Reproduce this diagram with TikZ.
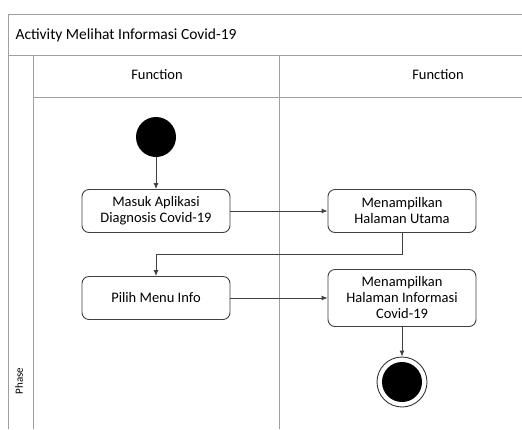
\documentclass[tikz,border=0pt]{standalone}
\usepackage{fontspec}
\setmainfont{Carlito}
\usetikzlibrary{arrows.meta}

\begin{document}
\begin{tikzpicture}[x=1pt,y=-1pt]
\tikzstyle{every node}=[font=\fontsize{14.5}{16}\selectfont]
\tikzstyle{frame}=[draw=gray!75,line width=1pt]
\tikzstyle{act}=[draw=black!75,line width=0.9pt,rounded corners=7pt,minimum width=148pt,minimum height=43pt,align=center,inner sep=2pt]
\tikzstyle{flow}=[draw=black!75,line width=0.9pt,-{Latex[length=6pt,width=5pt]}]
\useasboundingbox (0,0) rectangle (522,429);
\fill[white] (0,0) rectangle (522,429);
% swimlane frame
\draw[frame] (522,14) -- (8,14) -- (8,429);
\draw[frame] (8,55) -- (522,55);
\draw[frame] (33,55) -- (33,429);
\draw[frame] (279,55) -- (279,429);
\draw[frame] (33,97) -- (522,97);
\node[anchor=west,font=\fontsize{15.5}{18}\selectfont] (judul) at (12,35) {Activity Melihat Informasi Covid-19};
\node (lane1) at (157,75) {Function};
\node (lane2) at (438,75) {Function};
\node[rotate=90,font=\fontsize{11}{12}\selectfont] (fase) at (19,381) {Phase};
% nodes
\node[circle,fill=black,minimum size=40pt,inner sep=0pt] (mulai) at (156,137) {};
\node[act] (masuk) at (156,211) {Masuk Aplikasi\\Diagnosis Covid-19};
\node[act] (utama) at (402,211) {Menampilkan\\Halaman Utama};
\node[act] (pilih) at (156,298) {Pilih Menu Info};
\node[act,minimum height=57pt] (info) at (402,298) {Menampilkan\\Halaman Informasi\\Covid-19};
\node[circle,draw=black!80,line width=0.9pt,minimum size=50pt,inner sep=0pt] (selesai) at (402,382) {};
\node[circle,fill=black,minimum size=40pt,inner sep=0pt] at (selesai) {};
% connectors
\draw[flow] (mulai) -- (masuk);
\draw[flow] (masuk) -- (utama);
\draw[flow] (utama.south) -- ++(0,21) -| (pilih.north);
\draw[flow] (pilih) -- (info);
\draw[flow] (info) -- (selesai);
\end{tikzpicture}
\end{document}
